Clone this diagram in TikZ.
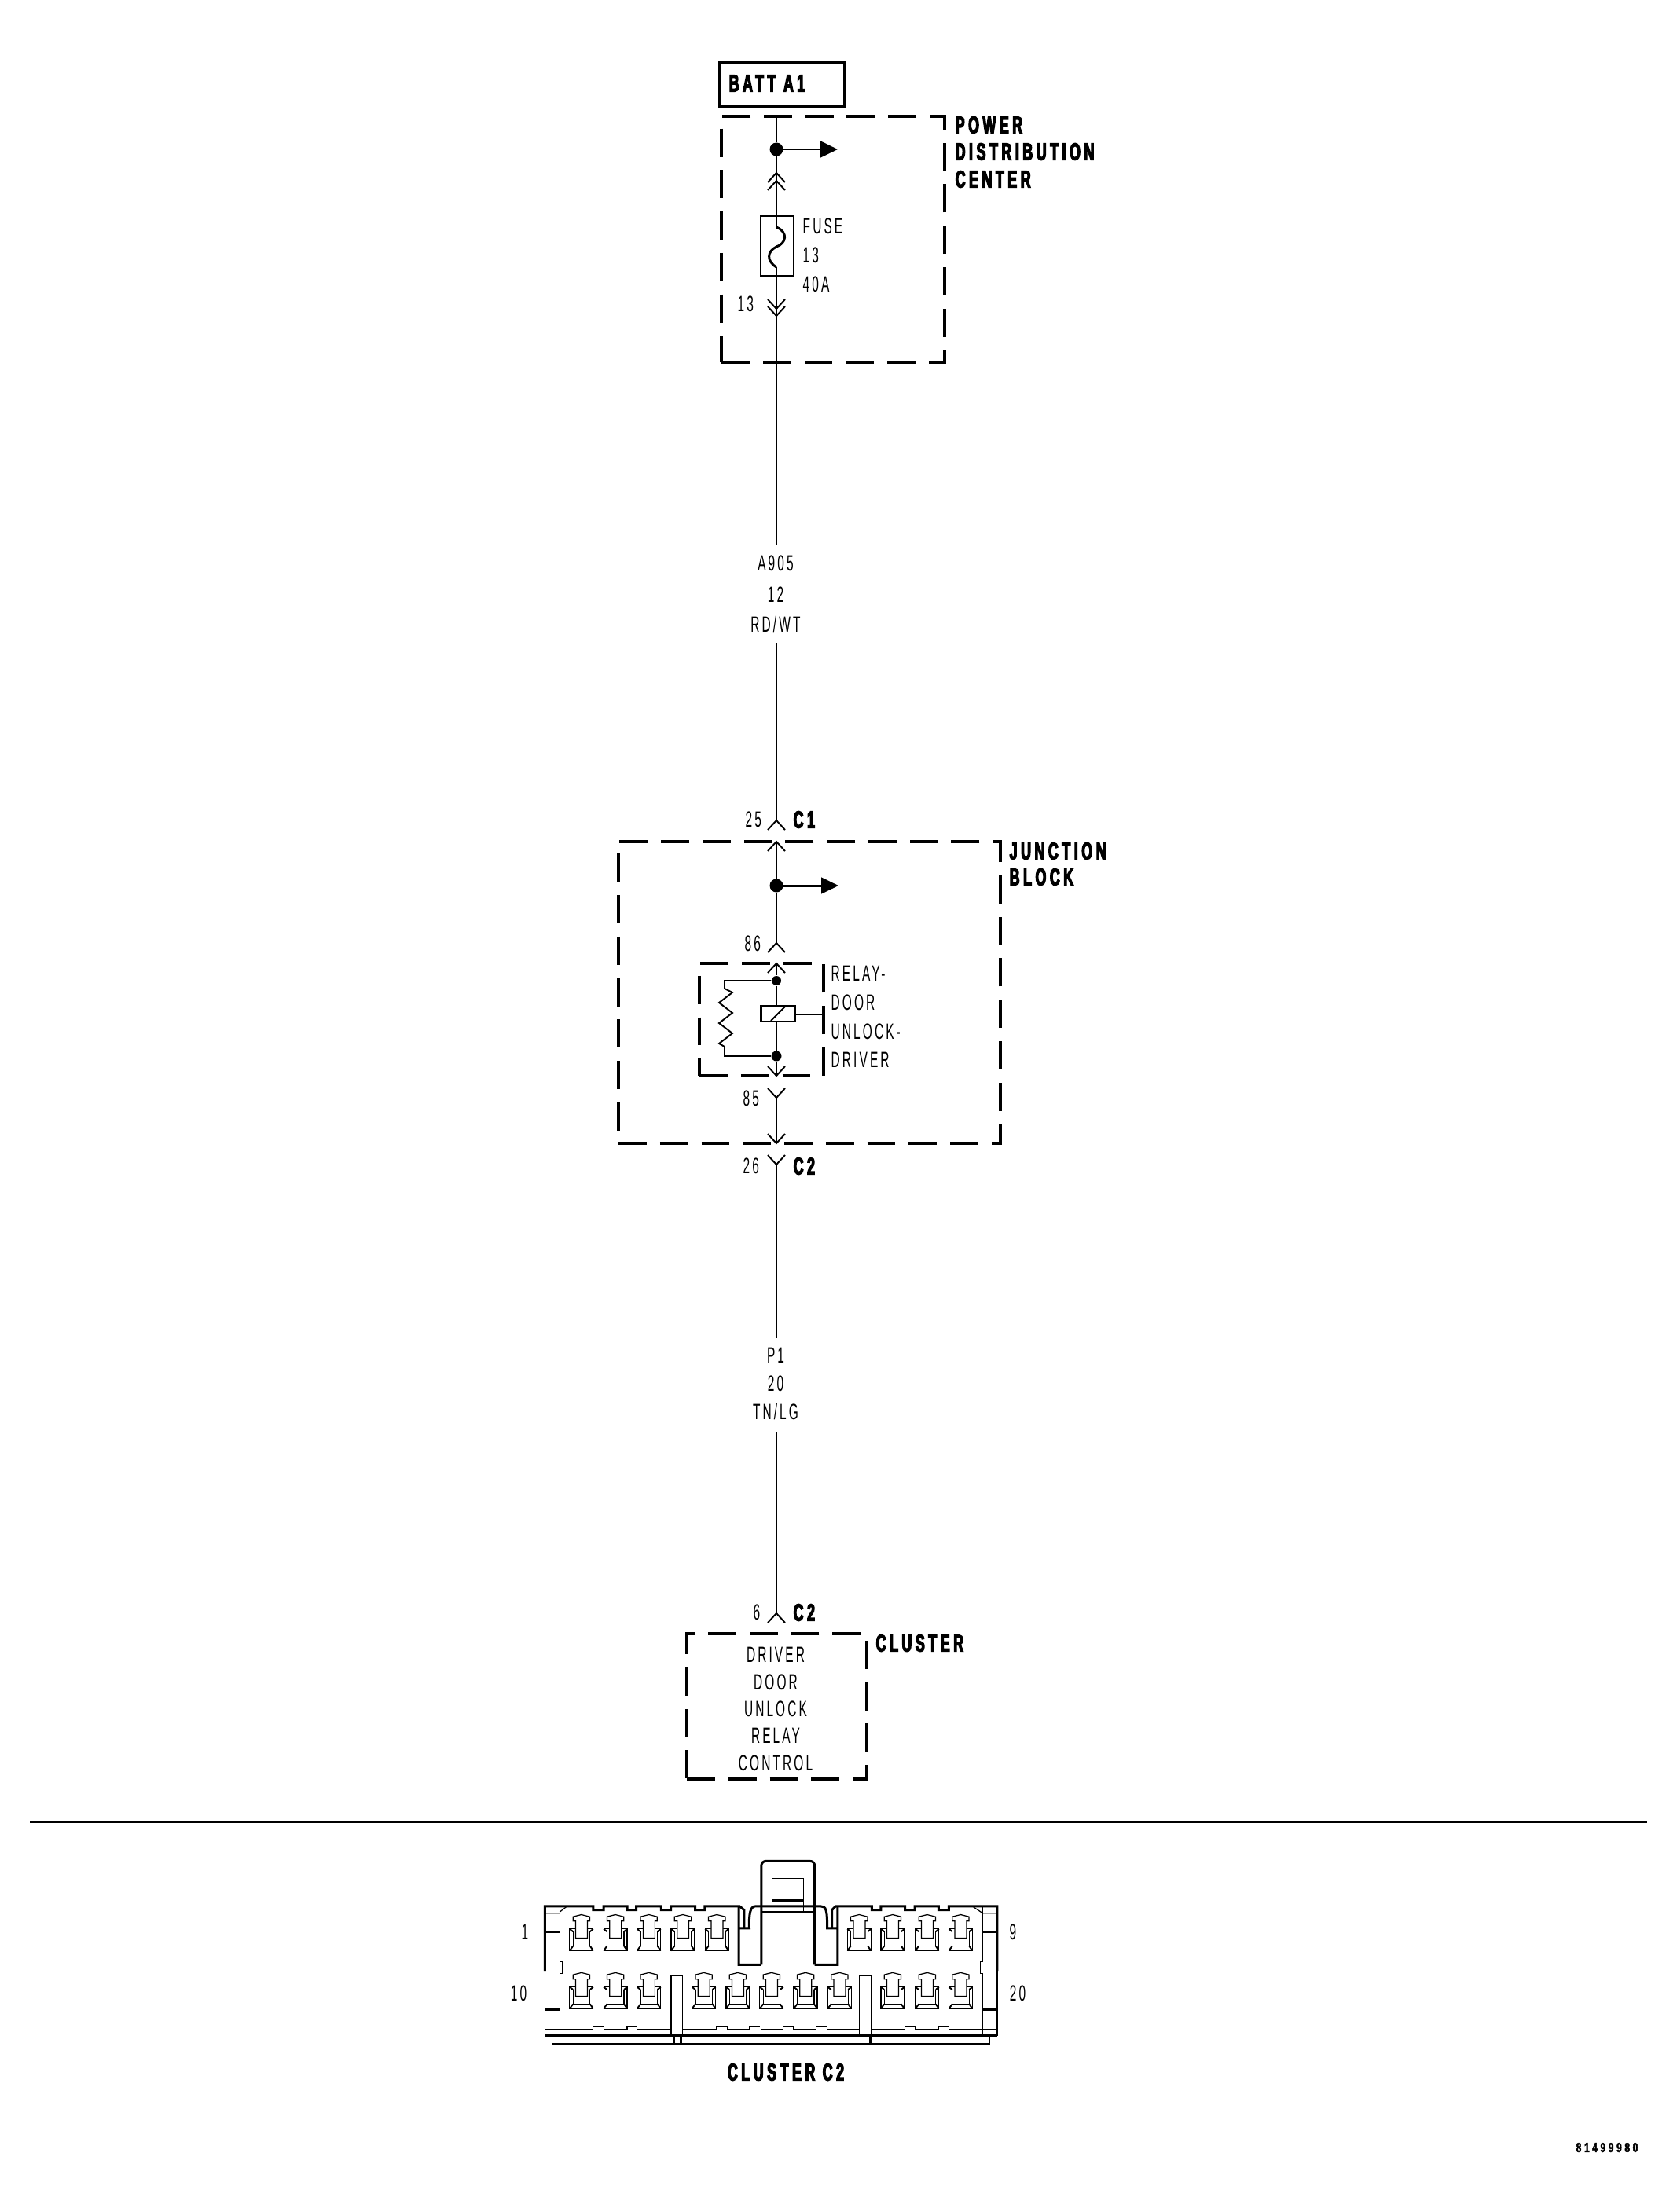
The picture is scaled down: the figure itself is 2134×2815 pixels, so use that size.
\documentclass[tikz,border=0pt]{standalone}
\usepackage{fontspec}
\newfontfamily\thinfont[FakeStretch=.55,LetterSpace=11]{Liberation Sans}
\newfontfamily\heavyfont[FakeStretch=.58,LetterSpace=15,FakeBold=4]{Liberation Sans}
\newfontfamily\stampfont[FakeStretch=.7,LetterSpace=22,FakeBold=3]{Liberation Sans}
\usetikzlibrary{arrows.meta, positioning, calc}

\tikzset{
	wire/.style={line width=.55pt},
	thickwire/.style={line width=.85pt},
	hairline/.style={line width=.35pt},
	dashbox/.style={draw, line width=.9pt, dash pattern=on 10.2pt off 4.8pt, inner sep=0pt},
	lbl/.style={font=\thinfont\fontsize{8}{8}\selectfont, inner sep=0pt},
	bold lbl/.style={font=\heavyfont\bfseries\fontsize{8.7}{8.7}\selectfont, inner sep=0pt},
	junction/.style={circle, fill=black, inner sep=0pt, minimum size=#1},
	feed/.style={line width=.85pt, -{Triangle[length=6.2pt,width=5.8pt]}}
}
% connector chevrons: apex at the coordinate, arms below or above it
\newcommand{\chevup}[1]{\draw[wire,shift={(#1)}] (-11,12) -- (0,0) -- (11,12);}
\newcommand{\chevdown}[1]{\draw[wire,shift={(#1)}] (-11,-12) -- (0,0) -- (11,-12);}
% one terminal cavity of the connector, in crop coordinates
\newcommand{\terminal}[2]{
	\begin{scope}[shift={(#1,#2)},hairline]
		\draw (-45,-83) rectangle (45,0);
		\draw (-32,-73) -- (-32,-18) -- (33,-18) -- (33,-73);
		\draw[wire] (-45,0) -- (-32,-18) (45,0) -- (33,-18) (-45,-83) -- (-32,-73) (45,-83) -- (33,-73);
		\draw[fill=white] (-32,-113) -- (-32,-130) -- (0,-138) -- (32,-130) -- (32,-113) -- (23,-113) -- (23,-48) -- (-22,-48) -- (-22,-113) -- cycle;
	\end{scope}
}

\begin{document}
\begin{tikzpicture}[x=.01cm,y=-.01cm]
	\useasboundingbox (0,0) rectangle (2134,2815);

	% ---------- Power distribution center ----------
	\node[draw, line width=.9pt, minimum width=159*.01cm, minimum height=56*.01cm, inner sep=0pt] (batt) at (995.5,107) {};
	\node[bold lbl, anchor=west] (battlabel) at (927,106) {BATT A1};
	\node[dashbox, minimum width=284*.01cm, minimum height=313*.01cm] (pdc) at (1060,304.5) {};
	\node[bold lbl, anchor=west] (pdc1) at (1215,159) {POWER};
	\node[bold lbl, anchor=west] (pdc2) at (1215,193) {DISTRIBUTION};
	\node[bold lbl, anchor=west] (pdc3) at (1215,228) {CENTER};

	\coordinate (pdctop) at (988,148);
	\node[junction=17*.01cm] (pdcdot) at (988,190) {};
	\coordinate (pdcfeed) at (1066,190);
	\coordinate (fusein) at (988,230);
	\coordinate (fusein2) at (988,220);
	\node[draw, wire, minimum width=42*.01cm, minimum height=76*.01cm, inner sep=0pt] (fuse) at (989,313) {};
	\coordinate (fusea) at (988,289);
	\coordinate (fuseb) at (988,340);
	\coordinate (fuseout) at (988,402);
	\coordinate (fuseout2) at (988,393);

	\draw[wire] (pdctop) -- (pdcdot) -- (fusein2) -- (fusea);
	\draw[feed] (pdcdot) -- (pdcfeed);
	\draw[thickwire] (fusea) .. controls (1004,296) and (1000,310) .. (988,314) .. controls (976,320) and (975,332) .. (fuseb);
	\draw[wire] (fuseb) -- (fuseout);
	\chevup{fusein2}
	\chevup{fusein}
	\chevdown{fuseout2}
	\chevdown{fuseout}
	\node[lbl, anchor=west] (fusename) at (1021,288) {FUSE};
	\node[lbl, anchor=west] (fusenum) at (1021,325) {13};
	\node[lbl, anchor=west] (fuseamp) at (1021,362) {40A};
	\node[lbl, anchor=west] (fusepin) at (938,387) {13};

	% ---------- Wire A905 ----------
	\node[lbl] (a905a) at (987,717) {A905};
	\node[lbl] (a905b) at (987,757) {12};
	\node[lbl] (a905c) at (987,794) {RD/WT};
	\coordinate (a905up) at (988,693);
	\coordinate (a905dn) at (988,818);
	\coordinate (c1pin) at (988,1044);
	\draw[wire] (fuseout) -- (a905up);
	\draw[wire] (a905dn) -- (c1pin);
	\chevup{c1pin}
	\node[lbl, anchor=west] (c1num) at (948,1043) {25};
	\node[bold lbl, anchor=west] (c1name) at (1009,1043) {C1};

	% ---------- Junction block ----------
	\node[dashbox, minimum width=486*.01cm, minimum height=384*.01cm] (jb) at (1030,1263) {};
	\node[bold lbl, anchor=west] (jb1) at (1284,1083) {JUNCTION};
	\node[bold lbl, anchor=west] (jb2) at (1284,1116) {BLOCK};

	\coordinate (jbtop) at (988,1071);
	\node[junction=17*.01cm] (jbdot) at (988,1127) {};
	\coordinate (jbfeed) at (1067,1127);
	\coordinate (p86) at (988,1200);
	\draw[wire] (jbtop) -- (jbdot) -- (p86);
	\draw[feed] (jbdot) -- (jbfeed);
	\chevup{jbtop}
	\chevup{p86}
	\node[lbl, anchor=west] (p86num) at (947,1201) {86};

	% relay
	\node[dashbox, minimum width=158*.01cm, minimum height=143*.01cm] (relay) at (969,1297.5) {};
	\coordinate (relaytop) at (988,1226);
	\coordinate (relaybot) at (988,1369);
	\node[junction=12*.01cm] (rdot1) at (988,1248) {};
	\node[junction=13*.01cm] (rdot2) at (988,1344) {};
	\node[draw, line width=.6pt, minimum width=43*.01cm, minimum height=20*.01cm, inner sep=0pt] (coil) at (990,1290) {};
	\coordinate (coiltap) at (1048,1291);
	\draw[wire] (relaytop) -- (rdot1) -- (coil.north -| rdot1);
	\draw[wire] (coil.south -| rdot2) -- (rdot2) -- (relaybot);
	\draw[wire] (coil.east |- coiltap) -- (coiltap);
	\draw[wire] (981,1299) -- (999,1281);
	\draw[wire] (rdot1) -- (922,1248) -- (922,1258) -- (932,1263) -- (915,1276) -- (932,1289) -- (915,1302) -- (932,1315) -- (915,1328) -- (922,1332) -- (922,1344) -- (rdot2);
	\chevup{relaytop}
	\chevdown{relaybot}
	\node[lbl, anchor=west] (relay1) at (1057,1239) {RELAY-};
	\node[lbl, anchor=west] (relay2) at (1057,1276) {DOOR};
	\node[lbl, anchor=west] (relay3) at (1057,1313) {UNLOCK-};
	\node[lbl, anchor=west] (relay4) at (1057,1349) {DRIVER};

	\coordinate (p85) at (988,1397);
	\coordinate (jbbot) at (988,1455);
	\draw[wire] (p85) -- (jbbot);
	\chevdown{p85}
	\chevdown{jbbot}
	\node[lbl, anchor=west] (p85num) at (945,1398) {85};

	% ---------- Wire P1 ----------
	\coordinate (c2pin) at (988,1482);
	\chevdown{c2pin}
	\node[lbl, anchor=west] (c2num) at (945,1484) {26};
	\node[bold lbl, anchor=west] (c2name) at (1009,1484) {C2};
	\node[lbl] (p1a) at (987,1725) {P1};
	\node[lbl] (p1b) at (987,1761) {20};
	\node[lbl] (p1c) at (987,1796) {TN/LG};
	\coordinate (p1up) at (988,1703);
	\coordinate (p1dn) at (988,1822);
	\coordinate (p6) at (988,2053);
	\draw[wire] (c2pin) -- (p1up);
	\draw[wire] (p1dn) -- (p6);
	\chevup{p6}
	\node[lbl, anchor=west] (p6num) at (958,2052) {6};
	\node[bold lbl, anchor=west] (c2name2) at (1009,2052) {C2};

	% ---------- Cluster ----------
	\node[dashbox, minimum width=229*.01cm, minimum height=185*.01cm] (cluster) at (988.5,2171.5) {};
	\node[bold lbl, anchor=west] (clustername) at (1114,2091) {CLUSTER};
	\node[lbl] (cl1) at (987,2106) {DRIVER};
	\node[lbl] (cl2) at (987,2141) {DOOR};
	\node[lbl] (cl3) at (987,2175) {UNLOCK};
	\node[lbl] (cl4) at (987,2209) {RELAY};
	\node[lbl] (cl5) at (987,2244) {CONTROL};

	% ---------- Separator ----------
	\coordinate (sepl) at (38,2319);
	\coordinate (sepr) at (2096,2319);
	\draw[wire] (sepl) -- (sepr);

	% ---------- Connector view ----------
	\begin{scope}[shift={(640,2340)},x=.00333cm,y=-.00333cm]
		% outer wall
		\draw[thickwire] (160,505) -- (160,258) -- (345,258) -- (345,272) -- (385,272) -- (385,258) -- (475,258) -- (475,272) -- (510,272) -- (510,258) -- (605,258) -- (605,272) -- (642,272) -- (642,258) -- (735,258) -- (735,272) -- (772,272) -- (772,258) -- (905,258) -- (922,272) -- (922,342);
		\draw[thickwire] (1258,342) -- (1258,272) -- (1272,258) -- (1410,258) -- (1410,272) -- (1445,272) -- (1445,258) -- (1537,258) -- (1537,272) -- (1575,272) -- (1575,258) -- (1666,258) -- (1666,272) -- (1705,272) -- (1705,258) -- (1890,258) -- (1890,505);
		\draw[hairline] (160,505) -- (160,753) (1890,505) -- (1890,753);
		\draw[thickwire] (160,753) -- (1890,753);
		% latch
		\draw[thickwire] (902,258) -- (902,482) -- (988,482) (902,342) -- (942,342) .. controls (940,290) and (945,258) .. (965,258) -- (1215,258) .. controls (1235,258) and (1240,270) .. (1240,342) -- (1280,342) (1280,258) -- (1280,482) -- (1192,482);
		\draw[thickwire] (988,482) -- (988,105) .. controls (988,92) and (995,85) .. (1008,85) -- (1172,85) .. controls (1185,85) and (1192,92) .. (1192,105) -- (1192,482);
		\draw[thickwire] (988,282) -- (1192,282);
		\draw[hairline] (1030,152) rectangle (1150,280);
		\draw[thickwire] (1030,237) -- (1150,237);
		% side columns
		\draw[hairline] (217,258) -- (217,470) -- (226,470) -- (226,515) -- (217,515) -- (217,753);
		\draw[hairline] (1835,258) -- (1835,470) -- (1825,470) -- (1825,515) -- (1835,515) -- (1835,753);
		\draw[hairline] (160,285) -- (217,285) (1835,285) -- (1890,285) (217,280) -- (245,258) (1795,258) -- (1835,285);
		\draw[thickwire] (160,355) -- (217,355) (160,653) -- (217,653) (1835,355) -- (1890,355) (1835,653) -- (1890,653);
		% bottom strip with bumps
		\draw[hairline] (160,728) -- (345,728) -- (345,716) -- (385,716) -- (385,728) -- (475,728) -- (475,716) -- (512,716) -- (512,728) -- (643,728);
		\draw[hairline] (686,730) -- (817,730) -- (817,718) -- (857,718) -- (857,730) -- (943,730) -- (943,718) -- (983,718);
		\draw[hairline] (985,730) -- (1072,730) -- (1072,718) -- (1110,718) -- (1110,730) -- (1200,730);
		\draw[hairline] (1200,718) -- (1240,718) -- (1240,730) -- (1363,730);
		\draw[hairline] (1409,730) -- (1537,730) -- (1537,718) -- (1576,718) -- (1576,730) -- (1666,730) -- (1666,718) -- (1705,718) -- (1705,730) -- (1890,730);
		% keyways and lower rail
		\draw[hairline] (643,525) rectangle (686,753);
		\draw[hairline] (1363,525) rectangle (1409,753);
		\draw[hairline] (187,753) -- (187,784) -- (1862,784) -- (1862,753);
		\draw[hairline] (655,753) -- (655,784) (1380,753) -- (1380,784);
		\draw[thickwire] (680,753) -- (680,784) (1405,753) -- (1405,784);
		% cavities
		\foreach \x in {300,430,558,688,818,1362,1490,1622,1750} {
			\terminal{\x}{428}
		}
		\foreach \x in {300,430,558,768,898,1027,1157,1287,1490,1622,1750} {
			\terminal{\x}{650}
		}
	\end{scope}

	\node[lbl] (pin1) at (668,2459) {1};
	\node[lbl] (pin10) at (660,2537) {10};
	\node[lbl] (pin9) at (1289,2459) {9};
	\node[lbl] (pin20) at (1295,2537) {20};
	\node[bold lbl] (connname) at (1000,2637) {CLUSTER C2};
	\node[font=\stampfont\bfseries\fontsize{4.8}{4.8}\selectfont, inner sep=0pt, anchor=west] (stamp) at (2005,2733) {81499980};
\end{tikzpicture}
\end{document}
